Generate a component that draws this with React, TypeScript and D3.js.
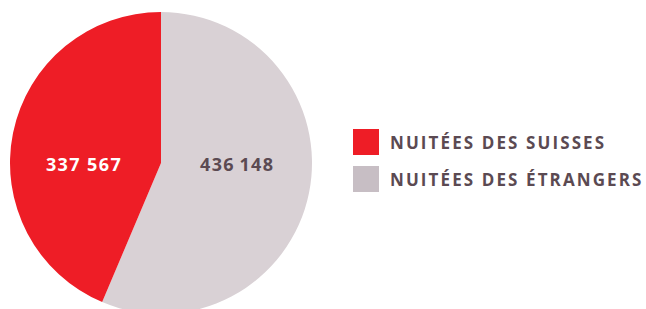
import React from 'react'
import * as d3 from 'd3'

const categories = ['Nuitées des étrangers', 'Nuitées des Suisses']
const values = [436148, 337567]
const sliceColors = ['#d9d1d5', '#ee1d26']
const legendColors = ['#c7bec4', '#ee1d26']
const labelColors = ['#5b4a52', '#ffffff']
// legend order in the picture: Suisses first
const legendOrder = [1, 0]

const width = 646
const height = 309
const cx = 161
const cy = 163
const radius = 151

const formatNumber = (v: number) => {
  const s = String(v)
  return s.slice(0, s.length - 3) + (v === 337567 ? ' ' : '\u2009') + s.slice(-3)
}

const App = () => {
  const pie = d3.pie<number>().sort(null).startAngle(0).endAngle(2 * Math.PI)
  const arcs = pie(values)
  const arc = d3.arc<d3.PieArcDatum<number>>().innerRadius(0).outerRadius(radius)

  return (
    <svg width={width} height={height} style={{ position: 'absolute', left: 0, top: 0 }}>
      <g transform={`translate(${cx},${cy})`}>
        {arcs.map((a, i) => (
          <path key={i} d={arc(a) || ''} fill={sliceColors[i]} />
        ))}
        {arcs.map((a, i) => {
          const mid = (a.startAngle + a.endAngle) / 2
          const x = Math.sin(mid) > 0 ? radius * 0.505 : -radius * 0.51
          return (
            <text
              key={'l' + i}
              x={x}
              y={8}
              textAnchor="middle"
              fill={labelColors[i]}
              fontFamily="'Open Sans', sans-serif"
              fontWeight={700}
              fontSize={18}
              letterSpacing={1.4}
            >
              {formatNumber(values[i])}
            </text>
          )
        })}
      </g>
      <g transform="translate(353,129)">
        {legendOrder.map((idx, j) => (
          <g key={idx} transform={`translate(0,${j * 37})`}>
            <rect width={26} height={26} fill={legendColors[idx]} />
            <text
              x={37}
              y={20}
              fill="#5b4a52"
              fontFamily="'Open Sans', sans-serif"
              fontWeight={700}
              fontSize={17}
              letterSpacing={2.1}
            >
              {categories[idx].toUpperCase()}
            </text>
          </g>
        ))}
      </g>
    </svg>
  )
}

export default App
